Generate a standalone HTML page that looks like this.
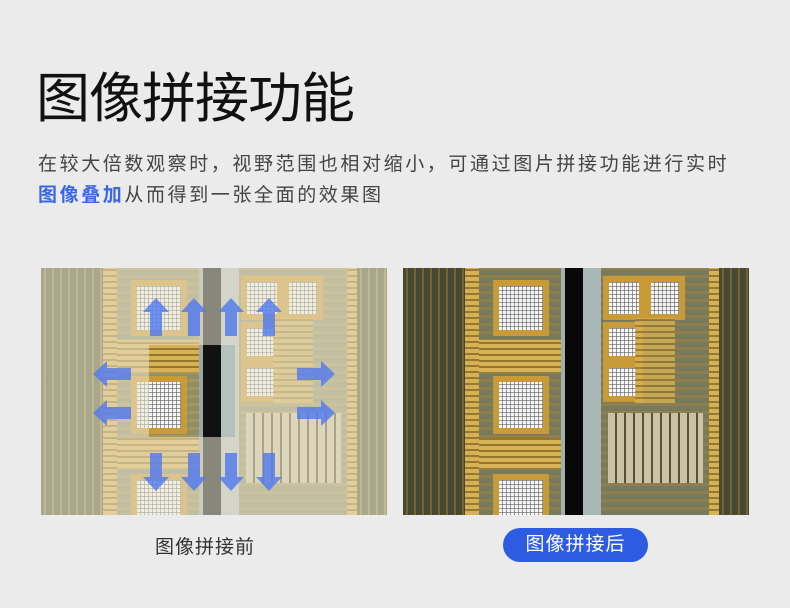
<!DOCTYPE html>
<html><head><meta charset="utf-8"><style>
body{margin:0;width:790px;height:608px;background:#ebebeb;font-family:"Liberation Sans","Noto Sans CJK SC",sans-serif;position:relative;overflow:hidden}
.a{position:absolute}
h1{position:absolute;left:36px;top:66px;margin:0;font-size:54px;font-weight:400;color:#111;line-height:66px;letter-spacing:-1px}
.p{position:absolute;left:38px;font-size:19px;color:#444;letter-spacing:2.6px;line-height:26px;white-space:nowrap}
.chip{position:absolute;top:268px;width:346px;height:247px;overflow:hidden;background:#6b6a3c}
.dk{background:repeating-linear-gradient(90deg,#5f5b30 0 3px,#8a7f44 3px 5px,#4f5a48 5px 8px),#666}
.gd{background:repeating-linear-gradient(0deg,#d7b154 0 4px,#94782f 4px 6px)}
.pad{position:absolute;background:#c89a38;padding:6px}
.pad i{display:block;width:100%;height:100%;background:repeating-linear-gradient(90deg,transparent 0 3px,rgba(90,90,90,.6) 3px 4px),repeating-linear-gradient(0deg,#f6f6f6 0 3px,#999 3px 4px)}
.mid{background:repeating-linear-gradient(0deg,#8c8f6c 0 5px,#a7955a 5px 8px)}
</style></head><body>
<h1>图像拼接功能</h1>
<div class="p" style="top:152px">在较大倍数观察时，视野范围也相对缩小，可通过图片拼接功能进行实时</div>
<div class="p" style="top:183px"><b style="color:#3a66e6">图像叠加</b>从而得到一张全面的效果图</div>

<div class="chip" style="left:41px">
  <div class="a dk" style="left:0;top:0;width:62px;height:247px"></div>
  <div class="a gd" style="left:62px;top:0;width:14px;height:247px"></div>
  <div class="a mid" style="left:76px;top:0;width:82px;height:247px"></div>
  <div class="a gd" style="left:76px;top:72px;width:82px;height:32px"></div>
  <div class="a gd" style="left:76px;top:170px;width:82px;height:30px"></div>
  <div class="pad" style="left:90px;top:12px;width:44px;height:44px"><i></i></div>
  <div class="pad" style="left:90px;top:108px;width:44px;height:46px"><i></i></div>
  <div class="pad" style="left:90px;top:206px;width:44px;height:44px"><i></i></div>
  <div class="a" style="left:158px;top:0;width:6px;height:247px;background:#9ea8a0"></div>
  <div class="a" style="left:162px;top:0;width:18px;height:247px;background:#111"></div>
  <div class="a" style="left:180px;top:0;width:18px;height:247px;background:#b5c1bd"></div>
  <div class="a mid" style="left:198px;top:0;width:108px;height:247px"></div>
  <div class="pad" style="left:200px;top:8px;width:30px;height:32px"><i></i></div>
  <div class="pad" style="left:242px;top:8px;width:28px;height:32px"><i></i></div>
  <div class="pad" style="left:200px;top:54px;width:28px;height:28px"><i></i></div>
  <div class="pad" style="left:200px;top:94px;width:28px;height:28px"><i></i></div>
  <div class="a gd" style="left:232px;top:50px;width:40px;height:85px;opacity:.8"></div>
  <div class="a" style="left:205px;top:145px;width:95px;height:70px;background:repeating-linear-gradient(90deg,#c9c2a6 0 7px,#5c5030 7px 9px),#999"></div>
  <div class="a gd" style="left:306px;top:0;width:10px;height:247px"></div>
  <div class="a dk" style="left:316px;top:0;width:30px;height:247px"></div>
  <div class="a" style="inset:0;background:linear-gradient(rgba(236,230,208,.55),rgba(236,230,208,.55)) 0 0/346px 77px no-repeat,linear-gradient(rgba(236,230,208,.55),rgba(236,230,208,.55)) 0 169px/346px 78px no-repeat,linear-gradient(rgba(236,230,208,.55),rgba(236,230,208,.55)) 0 77px/108px 92px no-repeat,linear-gradient(rgba(236,230,208,.55),rgba(236,230,208,.55)) 194px 77px/152px 92px no-repeat"></div>
  <svg class="a" style="left:0;top:0" width="346" height="247" fill="#4f78f0" fill-opacity=".8">
    <path d="M115 30 L102 44 L109 44 L109 68 L121 68 L121 44 L128 44Z"/>
    <path d="M153 30 L140 44 L147 44 L147 68 L159 68 L159 44 L166 44Z"/>
    <path d="M190 30 L177 44 L184 44 L184 68 L196 68 L196 44 L203 44Z"/>
    <path d="M228 30 L215 44 L222 44 L222 68 L234 68 L234 44 L241 44Z"/>
    <path d="M115 223 L102 209 L109 209 L109 185 L121 185 L121 209 L128 209Z"/>
    <path d="M153 223 L140 209 L147 209 L147 185 L159 185 L159 209 L166 209Z"/>
    <path d="M190 223 L177 209 L184 209 L184 185 L196 185 L196 209 L203 209Z"/>
    <path d="M228 223 L215 209 L222 209 L222 185 L234 185 L234 209 L241 209Z"/>
    <path d="M52 106 L66 93 L66 100 L90 100 L90 112 L66 112 L66 119Z"/>
    <path d="M52 145 L66 132 L66 139 L90 139 L90 151 L66 151 L66 158Z"/>
    <path d="M294 106 L280 93 L280 100 L256 100 L256 112 L280 112 L280 119Z"/>
    <path d="M294 145 L280 132 L280 139 L256 139 L256 151 L280 151 L280 158Z"/>
  </svg>
</div>

<div class="chip" style="left:403px">
  <div class="a dk" style="left:0;top:0;width:62px;height:247px;filter:brightness(.8)"></div>
  <div class="a gd" style="left:62px;top:0;width:14px;height:247px"></div>
  <div class="a mid" style="left:76px;top:0;width:82px;height:247px;filter:brightness(.85)"></div>
  <div class="a gd" style="left:76px;top:72px;width:82px;height:32px"></div>
  <div class="a gd" style="left:76px;top:170px;width:82px;height:30px"></div>
  <div class="pad" style="left:90px;top:12px;width:44px;height:44px"><i></i></div>
  <div class="pad" style="left:90px;top:108px;width:44px;height:46px"><i></i></div>
  <div class="pad" style="left:90px;top:206px;width:44px;height:44px"><i></i></div>
  <div class="a" style="left:158px;top:0;width:6px;height:247px;background:#9fb0ad"></div>
  <div class="a" style="left:162px;top:0;width:18px;height:247px;background:#080808"></div>
  <div class="a" style="left:180px;top:0;width:18px;height:247px;background:#a9b8b6"></div>
  <div class="a mid" style="left:198px;top:0;width:108px;height:247px;filter:brightness(.85)"></div>
  <div class="pad" style="left:200px;top:8px;width:30px;height:32px"><i></i></div>
  <div class="pad" style="left:242px;top:8px;width:28px;height:32px"><i></i></div>
  <div class="pad" style="left:200px;top:54px;width:28px;height:28px"><i></i></div>
  <div class="pad" style="left:200px;top:94px;width:28px;height:28px"><i></i></div>
  <div class="a gd" style="left:232px;top:50px;width:40px;height:85px;opacity:.8"></div>
  <div class="a" style="left:205px;top:145px;width:95px;height:70px;background:repeating-linear-gradient(90deg,#c9c2a6 0 7px,#5c5030 7px 9px),#999"></div>
  <div class="a gd" style="left:306px;top:0;width:10px;height:247px"></div>
  <div class="a dk" style="left:316px;top:0;width:30px;height:247px;filter:brightness(.8)"></div>
</div>

<div class="a" style="left:155px;top:532px;font-size:19px;color:#333;letter-spacing:1px">图像拼接前</div>
<div class="a" style="left:503px;top:528px;width:145px;height:34px;border-radius:17px;background:#2d5ce3;color:#fff;font-size:19px;line-height:34px;text-align:center;letter-spacing:1px">图像拼接后</div>
</body></html>
